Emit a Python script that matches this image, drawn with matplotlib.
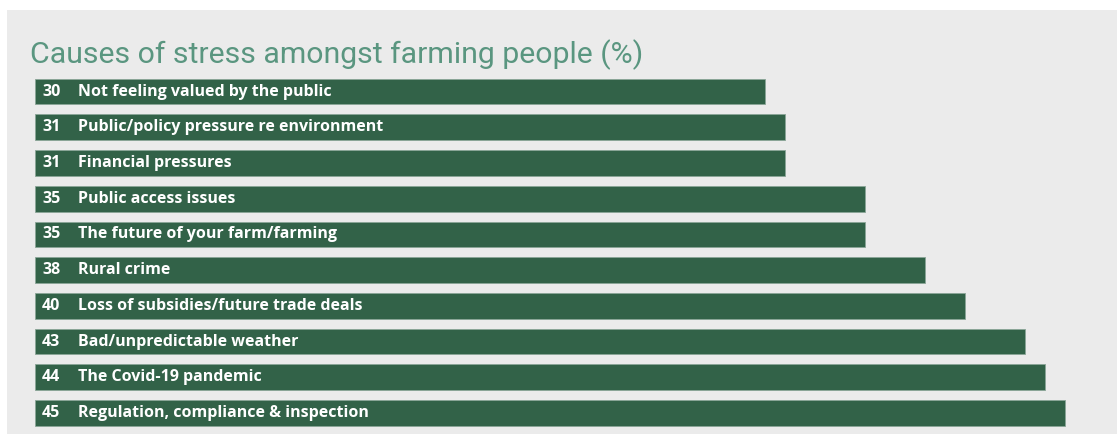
import matplotlib.pyplot as plt
from matplotlib.patches import Rectangle

# values as printed, top to bottom
causes = [
    "Not feeling valued by the public",
    "Public/policy pressure re environment",
    "Financial pressures",
    "Public access issues",
    "The future of your farm/farming",
    "Rural crime",
    "Loss of subsidies/future trade deals",
    "Bad/unpredictable weather",
    "The Covid-19 pandemic",
    "Regulation, compliance & inspection",
]
pct = [30, 31, 31, 35, 35, 38, 40, 43, 44, 45]

title = "Causes of stress amongst farming people (%)"
bar_col = "#326248"
title_col = "#5a9680"
bg_col = "#ebebeb"
pad = 6.5  # strip of bar that holds the labels

fig = plt.figure(figsize=(11.17, 4.34), dpi=100)
fig.patch.set_facecolor("white")
fig.add_artist(Rectangle((7 / 1117, 0), 1, 1 - 10 / 434, transform=fig.transFigure,
                         facecolor=bg_col, edgecolor="none", zorder=-5))

ax = fig.add_axes([35 / 1117, 0.00726, 1 - 35 / 1117, 0.823])
ax.set_facecolor("none")
y = range(len(causes))
ax.barh(y, [p + pad for p in pct], left=-pad, height=0.72, color=bar_col,
        edgecolor="#8aa597", linewidth=0.6)
for i, (c, p) in enumerate(zip(causes, pct)):
    ax.annotate(str(p), xy=(-pad, i), xytext=(7, 0), textcoords="offset pixels",
                va="center", ha="left", color="white", fontsize=11.5,
                fontweight="bold", family="Open Sans")
    ax.annotate(c, xy=(-pad, i), xytext=(43, 0), textcoords="offset pixels",
                va="center", ha="left", color="white", fontsize=11.5,
                fontweight="bold", family="Open Sans")

ax.set_xlim(-pad, -pad + 1082 / 20)
ax.set_ylim(-0.5, len(causes) - 0.5)
ax.invert_yaxis()
ax.axis("off")

fig.text(30 / 1117, 1 - 63 / 434, title, color=title_col, fontsize=21.8,
         family="Roboto", ha="left", va="baseline")

fig.savefig("out.png", dpi=100)
